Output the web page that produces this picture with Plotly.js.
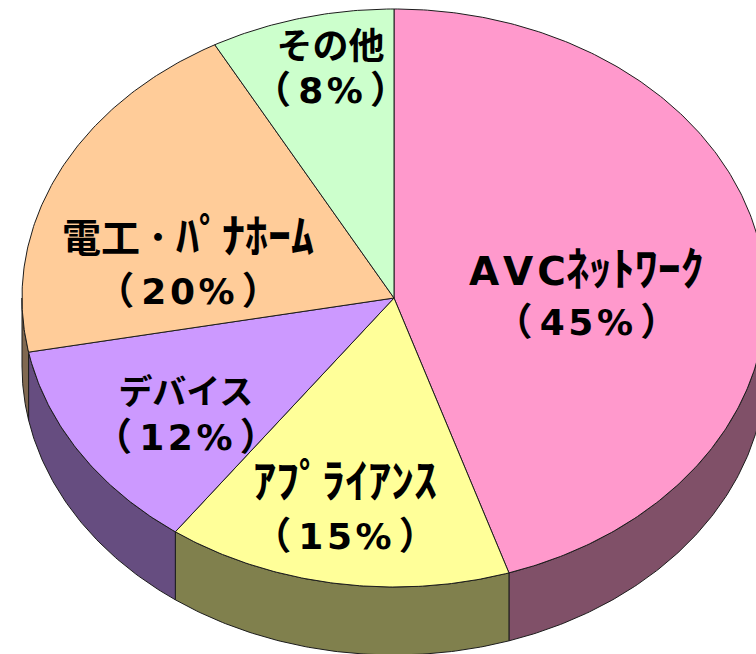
<!DOCTYPE html>
<html><head><meta charset="utf-8">
<script src="https://cdn.plot.ly/plotly-3.0.1.min.js"></script>
<style>html,body{margin:0;padding:0;background:#fff;overflow:hidden}</style>
</head><body><div id="chart" style="width:756px;height:654px"></div>
<script>
// Data, clockwise from 12 o'clock
const categories = ['AVCネットワーク','アプライアンス','デバイス','電工・パナホーム','その他'];
const shares = [45, 15, 12, 20, 8];
const topColors = ['#ff99cc','#ffff99','#cc99ff','#ffcc99','#ccffcc'];
const sideColors = ['#805068','#80804d','#664d80','#806850','#668066'];
const JP="'Noto Sans CJK JP'", LAT="'DejaVu Sans'", H='\u200a', T='\u2009';
const span=(t,s,f)=>`<span style="font-family:${f};font-size:${s}px">${t}</span>`;
const labelTexts = [
  span('A'+H+'V'+H+'C',39,LAT)+span('ﾈｯﾄﾜｰｸ',46,JP),
  span('ｱﾌﾟﾗｲｱﾝｽ',46,JP),
  span('デバイス',34,JP),
  span('電工',39,JP)+span(T+'･'+T,40,JP)+span('ﾊﾟﾅﾎｰﾑ',46,JP),
  span('その他',36,JP)
];
const labelPos = [[586,264,314],[345,476,528],[186,390,436],[188,231,283],[330,43,87]];

const cx=394, cy=298, rx=372, ry=289, depth=68, edge='#1c1c1c';
const total = shares.reduce((a,b)=>a+b,0);
const px=a=>cx+rx*Math.sin(a), py=a=>cy-ry*Math.cos(a);
function arc(a0,a1,off){const n=Math.max(2,Math.ceil(Math.abs(a1-a0)/0.01));const xs=[],ys=[];
  for(let i=0;i<=n;i++){const a=a0+(a1-a0)*i/n;xs.push(px(a));ys.push(py(a)+off);}return [xs,ys];}
const sides=[],tops=[];
let acc=0;
shares.forEach((v,i)=>{
  const a0=acc/total*2*Math.PI; acc+=v; const a1=acc/total*2*Math.PI;
  const [tx,ty]=arc(a0,a1,0);
  tops.push({type:'scatter',mode:'lines',x:[cx,...tx,cx],y:[cy,...ty,cy],fill:'toself',fillcolor:topColors[i],
    line:{color:edge,width:1},hoverinfo:'text',text:categories[i],showlegend:false});
  const s0=Math.max(a0,Math.PI/2), s1=Math.min(a1,3*Math.PI/2);
  if(s1>s0){
    const [ux,uy]=arc(s0,s1,0),[lx,ly]=arc(s1,s0,depth);
    sides.push({type:'scatter',mode:'lines',x:[...ux,...lx,ux[0]],y:[...uy,...ly,uy[0]],fill:'toself',fillcolor:sideColors[i],
      line:{color:edge,width:1},hoverinfo:'skip',showlegend:false});
  }
});
const ann=[];
labelTexts.forEach((t,i)=>{
  const [x,y1,y2]=labelPos[i];
  const digits=String(shares[i]).split('').join(H);
  const pct=span('（',38,JP)+span(T+digits+H+'%'+T,36,LAT)+span('）',38,JP);
  ann.push({x,y:(y1+y2)/2,text:t+'<br>'+pct,showarrow:false,align:'center',xanchor:'center',yanchor:'middle',
    font:{family:'"Noto Sans CJK JP"',size:(y2-y1)/1.3,color:'#000',weight:700}});
});
Plotly.newPlot('chart',[...sides,...tops],{
  width:756,height:654,margin:{l:0,r:0,t:0,b:0},paper_bgcolor:'#fff',plot_bgcolor:'#fff',showlegend:false,
  xaxis:{range:[0,756],visible:false,fixedrange:true},
  yaxis:{range:[654,0],visible:false,fixedrange:true},
  annotations:ann
},{displayModeBar:false,staticPlot:true});
</script></body></html>
